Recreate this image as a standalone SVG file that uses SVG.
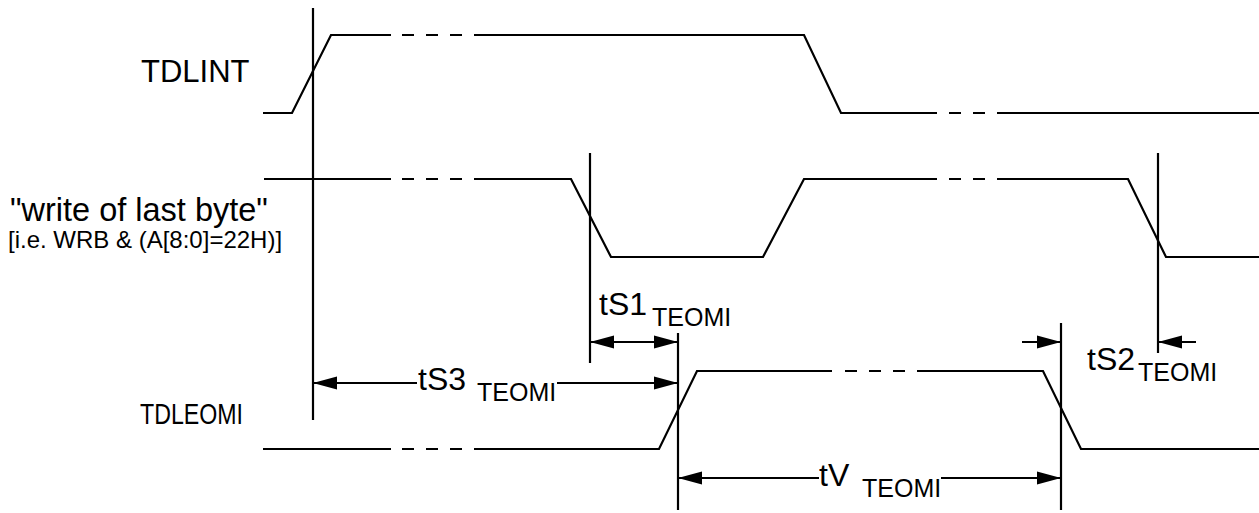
<svg xmlns="http://www.w3.org/2000/svg" width="1259" height="513" viewBox="0 0 1259 513">
<style>
.w{fill:none;stroke:#000;stroke-width:2.2;stroke-linejoin:miter}
.d{fill:none;stroke:#000;stroke-width:2.2;stroke-dasharray:12 12}
.g{fill:none;stroke:#000;stroke-width:2.2}
.a{fill:none;stroke:#000;stroke-width:2.2}
text{font-family:"Liberation Sans",Arial,sans-serif;fill:#000}
.lab{font-size:31px}
.main{font-size:32px}
.sub{font-size:25px}
</style>
<defs>
<marker id="ah" markerUnits="userSpaceOnUse" markerWidth="24" markerHeight="14" viewBox="0 0 22 12" refX="22" refY="6" orient="auto-start-reverse">
<path d="M0,0 L22,6 L0,12 Z" fill="#000"/>
</marker>
</defs>
<rect width="1259" height="513" fill="#fff"/>
<g id="TDLINT">
<text class="lab" x="141" y="82">TDLINT</text>
<polyline class="w" points="263,113 292,113 331,35 391,35"/>
<line class="d" x1="402" y1="35" x2="486" y2="35"/>
<polyline class="w" points="486,35 804,35 841,113 937,113"/>
<line class="d" x1="949" y1="113" x2="1003" y2="113"/>
<polyline class="w" points="1003,113 1259,113"/>
</g>
<g id="write-last-byte">
<text x="10" y="221" style="font-size:32.5px">"write of last byte"</text>
<text x="8" y="248" style="font-size:24px">[i.e. WRB &amp; (A[8:0]=22H)]</text>
<polyline class="w" points="264,179 391,179"/>
<line class="d" x1="402" y1="179" x2="486" y2="179"/>
<polyline class="w" points="486,179 571,179 611,257 763,257 804,179 937,179"/>
<line class="d" x1="949" y1="179" x2="1003" y2="179"/>
<polyline class="w" points="1003,179 1128,179 1166,257 1259,257"/>
</g>
<g id="TDLEOMI">
<text x="140" y="424" style="font-size:30px" textLength="103" lengthAdjust="spacingAndGlyphs">TDLEOMI</text>
<polyline class="w" points="263,449 391,449"/>
<line class="d" x1="402" y1="449" x2="486" y2="449"/>
<polyline class="w" points="486,449 659,449 697,371 832,371"/>
<line class="d" x1="845" y1="371" x2="905" y2="371"/>
<polyline class="w" points="917,371 1043,371 1081,449 1259,449"/>
</g>
<g id="guides">
<line class="g" x1="313" y1="8" x2="313" y2="420"/>
<line class="g" x1="590" y1="153" x2="590" y2="363"/>
<line class="g" x1="1158" y1="153" x2="1158" y2="353"/>
<line class="g" x1="678" y1="333" x2="678" y2="510"/>
<line class="g" x1="1061" y1="323" x2="1061" y2="510"/>
</g>
<g id="connectors">
<line class="a" x1="590" y1="342" x2="678" y2="342" marker-start="url(#ah)" marker-end="url(#ah)"/>
<line class="a" x1="417" y1="383" x2="313" y2="383" marker-end="url(#ah)"/>
<line class="a" x1="557" y1="383" x2="678" y2="383" marker-end="url(#ah)"/>
<line class="a" x1="1022" y1="342" x2="1061" y2="342" marker-end="url(#ah)"/>
<line class="a" x1="1196" y1="342" x2="1158" y2="342" marker-end="url(#ah)"/>
<line class="a" x1="819" y1="478" x2="678" y2="478" marker-end="url(#ah)"/>
<line class="a" x1="941" y1="478" x2="1061" y2="478" marker-end="url(#ah)"/>
</g>
<g id="labels">
<text class="main" x="599" y="315">tS1</text><text class="sub" x="652" y="326">TEOMI</text>
<text class="main" x="418" y="390">tS3</text><text class="sub" x="477" y="401">TEOMI</text>
<text class="main" x="1087" y="370">tS2</text><text class="sub" x="1138" y="381">TEOMI</text>
<text class="main" x="819" y="486">tV</text><text class="sub" x="862" y="497">TEOMI</text>
</g>
</svg>
